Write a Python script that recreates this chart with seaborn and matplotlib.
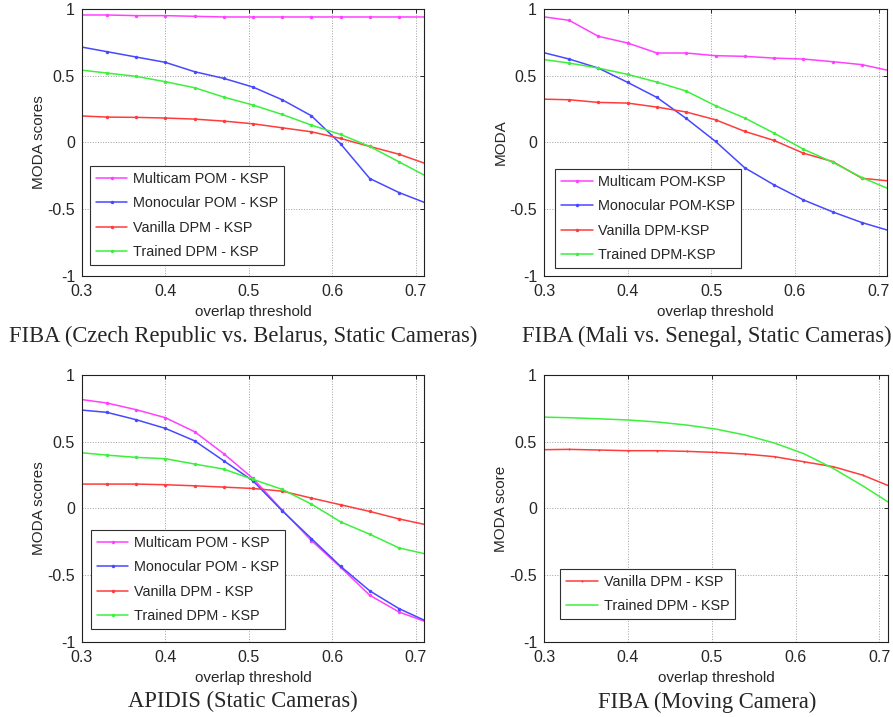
import matplotlib
matplotlib.use("Agg")
import matplotlib.pyplot as plt
import seaborn as sns
import pandas as pd

# --- Data ---
overlap = [0.295, 0.33, 0.365, 0.4, 0.435, 0.47, 0.505, 0.54, 0.575, 0.61, 0.645, 0.68, 0.715]

# FIBA (Czech Republic vs. Belarus, Static Cameras)
multicam_cz = [0.955, 0.955, 0.95, 0.95, 0.945, 0.94, 0.94, 0.94, 0.94, 0.94, 0.94, 0.94, 0.94]
mono_cz = [0.72, 0.68, 0.64, 0.60, 0.53, 0.48, 0.415, 0.32, 0.20, -0.01, -0.27, -0.375, -0.46]
vanilla_cz = [0.20, 0.19, 0.188, 0.183, 0.175, 0.16, 0.14, 0.11, 0.08, 0.03, -0.03, -0.088, -0.165]
trained_cz = [0.545, 0.52, 0.495, 0.455, 0.41, 0.34, 0.28, 0.21, 0.13, 0.06, -0.03, -0.145, -0.26]

# FIBA (Mali vs. Senegal, Static Cameras)
multicam_ml = [0.945, 0.915, 0.795, 0.745, 0.67, 0.67, 0.65, 0.645, 0.632, 0.625, 0.605, 0.583, 0.535]
mono_ml = [0.68, 0.625, 0.557, 0.45, 0.337, 0.18, 0.008, -0.19, -0.318, -0.43, -0.52, -0.60, -0.665]
vanilla_ml = [0.325, 0.32, 0.30, 0.295, 0.265, 0.228, 0.17, 0.083, 0.015, -0.08, -0.143, -0.268, -0.29]
trained_ml = [0.625, 0.595, 0.557, 0.51, 0.452, 0.385, 0.275, 0.183, 0.07, -0.05, -0.148, -0.263, -0.355]

# APIDIS (Static Cameras)
multicam_ap = [0.82, 0.79, 0.74, 0.68, 0.575, 0.41, 0.225, -0.012, -0.24, -0.44, -0.65, -0.775, -0.855]
mono_ap = [0.74, 0.72, 0.665, 0.60, 0.507, 0.357, 0.207, -0.017, -0.225, -0.433, -0.617, -0.75, -0.85]
vanilla_ap = [0.183, 0.183, 0.183, 0.178, 0.17, 0.16, 0.15, 0.13, 0.078, 0.028, -0.022, -0.078, -0.125]
trained_ap = [0.42, 0.40, 0.383, 0.373, 0.333, 0.295, 0.218, 0.143, 0.033, -0.10, -0.193, -0.295, -0.345]

# FIBA (Moving Camera)
vanilla_mv = [0.44, 0.443, 0.438, 0.433, 0.433, 0.428, 0.42, 0.408, 0.388, 0.35, 0.313, 0.25, 0.16]
trained_mv = [0.685, 0.68, 0.672, 0.663, 0.648, 0.625, 0.595, 0.55, 0.49, 0.41, 0.30, 0.17, 0.03]

xticks = [0.3, 0.4, 0.5, 0.6, 0.7]
xtick_labels = ["0.3", "0.4", "0.5", "0.6", "0.7"]
yticks = [-1, -0.5, 0, 0.5, 1]
ytick_labels = ["-1", "-0.5", "0", "0.5", "1"]

COLORS = {"multicam": "#ff40ff", "mono": "#4848ff", "vanilla": "#ff3c3c", "trained": "#3cf03c"}

sns.set_style("white")
plt.rcParams["font.family"] = ["Liberation Sans", "DejaVu Sans"]


def draw_panel(ax, series, ylabel, legend_anchor, caption, fig, cap_xy):
    for key, label, values, msize in series:
        df = pd.DataFrame({"overlap": overlap, "moda": values})
        sns.lineplot(data=df, x="overlap", y="moda", ax=ax, color=COLORS[key],
                     label=label, linewidth=1.1, marker="." if msize else None,
                     markersize=msize, markeredgewidth=0, sort=False)
    ax.set_xlim(0.3, 0.71)
    ax.set_ylim(-1, 1)
    ax.set_xticks(xticks)
    ax.set_xticklabels(xtick_labels)
    ax.set_yticks(yticks)
    ax.set_yticklabels(ytick_labels)
    ax.tick_params(direction="in", length=3, labelsize=11.5, width=0.7,
                   top=True, right=True)
    ax.tick_params(axis="x", pad=6)
    ax.tick_params(axis="y", pad=5)
    ax.grid(True, linestyle=":", color="#a0a0a0", linewidth=0.7)
    for sp in ax.spines.values():
        sp.set_visible(True)
        sp.set_color("#202020")
        sp.set_linewidth(0.8)
    ax.set_xlabel("overlap threshold", fontsize=11, labelpad=4)
    ax.set_ylabel(ylabel, fontsize=11, labelpad=1)
    leg = ax.legend(loc="lower left", bbox_to_anchor=legend_anchor, borderaxespad=0,
                    fontsize=10.4, frameon=True, fancybox=False, framealpha=1,
                    edgecolor="#303030", handlelength=2.2, labelspacing=0.72,
                    borderpad=0.4, handletextpad=0.4)
    leg.get_frame().set_linewidth(0.8)
    fig.text(cap_xy[0], cap_xy[1], caption, ha="center", va="center",
             fontsize=16.3, family="Liberation Serif")


fig = plt.figure(figsize=(8.93, 7.17), dpi=100)
ax1 = fig.add_axes([0.0918, 0.6151, 0.383, 0.3724])
ax2 = fig.add_axes([0.6092, 0.6151, 0.3841, 0.3724])
ax3 = fig.add_axes([0.0918, 0.1046, 0.383, 0.3724])
ax4 = fig.add_axes([0.6092, 0.1046, 0.385, 0.3724])

draw_panel(ax1, [("multicam", "Multicam POM - KSP", multicam_cz, 5),
                 ("mono", "Monocular POM - KSP", mono_cz, 5),
                 ("vanilla", "Vanilla DPM - KSP", vanilla_cz, 5),
                 ("trained", "Trained DPM - KSP", trained_cz, 5)],
           "MODA scores", (0.023, 0.041),
           "FIBA (Czech Republic vs. Belarus, Static Cameras)", fig, (0.272, 0.531))

draw_panel(ax2, [("multicam", "Multicam POM-KSP", multicam_ml, 5),
                 ("mono", "Monocular POM-KSP", mono_ml, 5),
                 ("vanilla", "Vanilla DPM-KSP", vanilla_ml, 5),
                 ("trained", "Trained DPM-KSP", trained_ml, 5)],
           "MODA", (0.032, 0.03),
           "FIBA (Mali vs. Senegal, Static Cameras)", fig, (0.791, 0.531))

draw_panel(ax3, [("multicam", "Multicam POM - KSP", multicam_ap, 5),
                 ("mono", "Monocular POM - KSP", mono_ap, 5),
                 ("vanilla", "Vanilla DPM - KSP", vanilla_ap, 5),
                 ("trained", "Trained DPM - KSP", trained_ap, 5)],
           "MODA scores", (0.026, 0.049),
           "APIDIS (Static Cameras)", fig, (0.272, 0.021))

draw_panel(ax4, [("vanilla", "Vanilla DPM - KSP", vanilla_mv, 3),
                 ("trained", "Trained DPM - KSP", trained_mv, 0)],
           "MODA score", (0.047, 0.086),
           "FIBA (Moving Camera)", fig, (0.792, 0.021))

fig.savefig("out.png", dpi=100)
plt.close(fig)
